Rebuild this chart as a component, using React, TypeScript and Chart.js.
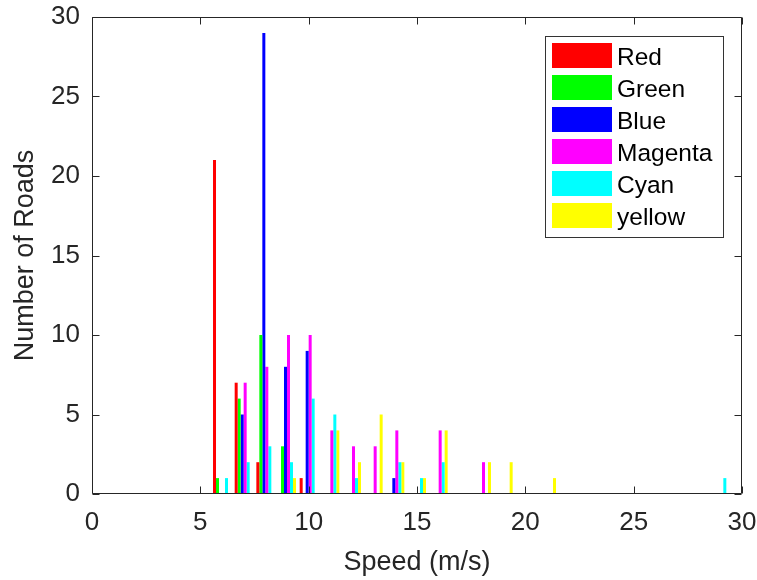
import React, { useEffect, useRef } from 'react';
import { Chart, registerables } from 'chart.js';

Chart.register(...registerables);

// Histogram bins (speed, m/s) and road counts per colour class
const speeds = [6, 7, 8, 9, 10, 11, 12, 13, 14, 15, 16, 17, 18, 19, 20, 21, 22, 23, 24, 25, 26, 27, 28, 29];
const redCounts = [21, 7, 2, 0, 1, 0, 0, 0, 0, 0, 0, 0, 0, 0, 0, 0, 0, 0, 0, 0, 0, 0, 0, 0];
const greenCounts = [1, 6, 10, 3, 0, 0, 0, 0, 0, 0, 0, 0, 0, 0, 0, 0, 0, 0, 0, 0, 0, 0, 0, 0];
const blueCounts = [0, 5, 29, 8, 9, 0, 0, 0, 1, 0, 0, 0, 0, 0, 0, 0, 0, 0, 0, 0, 0, 0, 0, 0];
const magentaCounts = [0, 7, 8, 10, 10, 4, 3, 3, 4, 0, 4, 0, 2, 0, 0, 0, 0, 0, 0, 0, 0, 0, 0, 0];
const cyanCounts = [1, 2, 3, 2, 6, 5, 1, 0, 2, 1, 2, 0, 0, 0, 0, 0, 0, 0, 0, 0, 0, 0, 0, 1];
const yellowCounts = [0, 0, 0, 1, 0, 4, 2, 5, 2, 1, 4, 0, 2, 2, 0, 1, 0, 0, 0, 0, 0, 0, 0, 0];

const seriesLabels = ['Red', 'Green', 'Blue', 'Magenta', 'Cyan', 'yellow'];
const seriesColors = ['#ff0000', '#00ff00', '#0000ff', '#ff00ff', '#00ffff', '#ffff00'];
const seriesCounts = [redCounts, greenCounts, blueCounts, magentaCounts, cyanCounts, yellowCounts];

const xTickValues = [0, 5, 10, 15, 20, 25, 30];
const yTickValues = [0, 5, 10, 15, 20, 25, 30];

const FONT = '"Liberation Sans", Arial, Helvetica, sans-serif';
const INK = '#262626';

// Box around the axes, inward ticks on all four sides, and a boxed legend
const matlabAxesPlugin = {
  id: 'matlabAxes',
  afterDraw(chart: any) {
    const { ctx, chartArea } = chart;
    const { left, right, top, bottom } = chartArea;
    const xs = chart.scales.x;
    const ys = chart.scales.y;
    const tick = 7;
    ctx.save();
    ctx.strokeStyle = INK;
    ctx.lineWidth = 1;
    ctx.beginPath();
    const l = Math.round(left) + 0.5;
    const r = Math.round(right) - 0.5;
    const t = Math.round(top) + 0.5;
    const b = Math.round(bottom) - 0.5;
    ctx.rect(l, t, r - l, b - t);
    xTickValues.forEach((v) => {
      const px = Math.round(xs.getPixelForValue(v)) + 0.5;
      ctx.moveTo(px, b);
      ctx.lineTo(px, b - tick);
      ctx.moveTo(px, t);
      ctx.lineTo(px, t + tick);
    });
    yTickValues.forEach((v) => {
      const py = Math.round(ys.getPixelForValue(v)) + 0.5;
      ctx.moveTo(l, py);
      ctx.lineTo(l + tick, py);
      ctx.moveTo(r, py);
      ctx.lineTo(r - tick, py);
    });
    ctx.stroke();

    // legend
    const lx = 545.5;
    const ly = 36.5;
    const lw = 178;
    const lh = 201;
    ctx.fillStyle = '#ffffff';
    ctx.fillRect(lx, ly, lw, lh);
    ctx.strokeStyle = '#333333';
    ctx.strokeRect(lx, ly, lw, lh);
    ctx.font = `24.5px ${FONT}`;
    ctx.textBaseline = 'middle';
    ctx.textAlign = 'left';
    chart.data.datasets.forEach((ds: any, i: number) => {
      const sy = 43 + i * 32;
      ctx.fillStyle = ds.backgroundColor;
      ctx.fillRect(552, sy, 60, 25);
      ctx.fillStyle = '#000000';
      ctx.fillText(ds.label, 617, sy + 15);
    });
    ctx.restore();
  },
};

export default function App() {
  const canvasRef = useRef<HTMLCanvasElement | null>(null);

  useEffect(() => {
    if (!canvasRef.current) return;
    const chart = new Chart(canvasRef.current, {
      type: 'bar',
      data: {
        datasets: seriesLabels.map((label, i) => ({
          label,
          data: speeds.map((s, j) => ({ x: s, y: seriesCounts[i][j] })),
          backgroundColor: seriesColors[i],
          borderWidth: 0,
          categoryPercentage: 0.83,
          barPercentage: 1.0,
        })),
      },
      options: {
        responsive: false,
        animation: false,
        devicePixelRatio: 1,
        layout: { padding: { top: 17, right: 15, left: 0, bottom: 0 } },
        plugins: {
          legend: { display: false },
          tooltip: { enabled: false },
        },
        scales: {
          x: {
            type: 'linear',
            min: 0,
            max: 30,
            offset: false,
            grid: { display: false, drawTicks: false },
            border: { display: false },
            afterBuildTicks: (scale: any) => {
              scale.ticks = xTickValues.map((v) => ({ value: v }));
            },
            ticks: {
              padding: 13,
              color: INK,
              font: { family: FONT, size: 26 },
              maxRotation: 0,
            },
            title: {
              display: true,
              text: 'Speed (m/s)',
              color: INK,
              font: { family: FONT, size: 27 },
              padding: { top: 0, bottom: 1 },
            },
            afterFit: (scale: any) => {
              scale.height = 86;
              scale.paddingLeft = 0;
              scale.paddingRight = 0;
              scale.paddingTop = 0;
              scale.paddingBottom = 0;
            },
          },
          y: {
            type: 'linear',
            min: 0,
            max: 30,
            grid: { display: false, drawTicks: false },
            border: { display: false },
            afterBuildTicks: (scale: any) => {
              scale.ticks = yTickValues.map((v) => ({ value: v }));
            },
            ticks: {
              padding: 12,
              color: INK,
              font: { family: FONT, size: 26 },
            },
            title: {
              display: true,
              text: 'Number of Roads',
              color: INK,
              font: { family: FONT, size: 27 },
              padding: { top: 9, bottom: 0 },
            },
            afterFit: (scale: any) => {
              scale.width = 92;
              scale.paddingLeft = 0;
              scale.paddingRight = 0;
              scale.paddingTop = 0;
              scale.paddingBottom = 0;
            },
          },
        },
      },
      plugins: [matlabAxesPlugin],
    } as any);
    return () => chart.destroy();
  }, []);

  return (
    <div style={{ position: 'absolute', left: 0, top: 0, width: 757, height: 580, background: '#ffffff' }}>
      <canvas ref={canvasRef} width={757} height={580} />
    </div>
  );
}
